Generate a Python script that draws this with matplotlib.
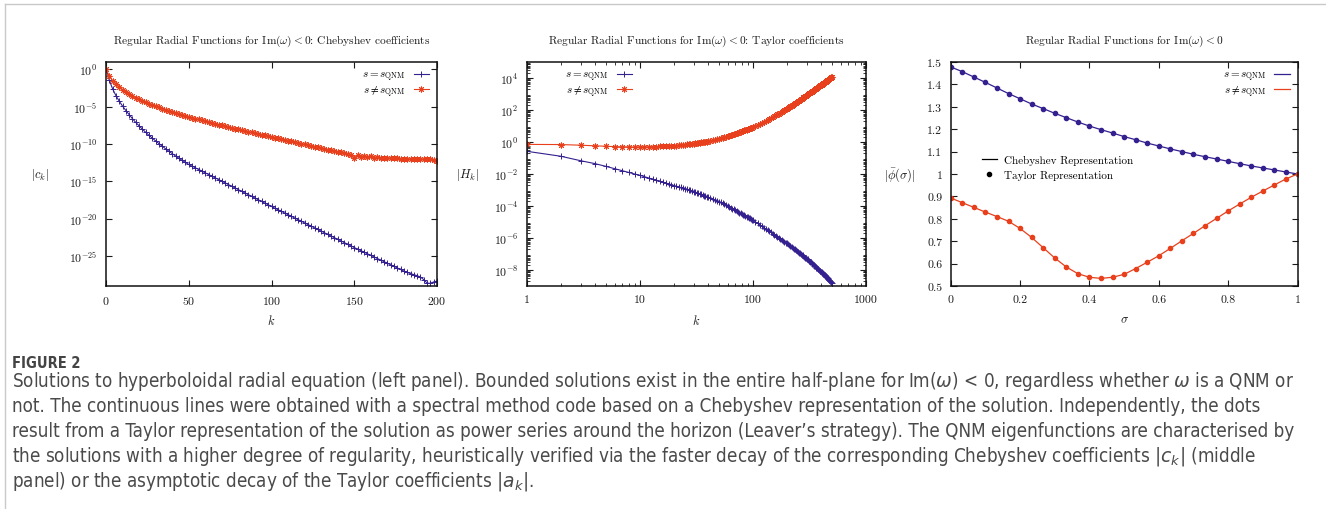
import matplotlib.pyplot as plt
import numpy as np
from matplotlib.lines import Line2D
from matplotlib.ticker import LogLocator, NullLocator, NullFormatter, FixedLocator, FixedFormatter

# ---------------- data (log10 values) ----------------
# left panel: Chebyshev coefficients |c_k|, k = 0, 2, ..., 200
k_cheb = np.arange(0, 201, 2)
log_ck_qnm = [
    0.1, -1.45, -2.6, -3.5, -4.25, -4.9, -5.5, -6.05, -6.6, -7.1,
    -7.55, -8.0, -8.42, -8.82, -9.2, -9.57, -9.93, -10.28, -10.62, -10.95,
    -11.27, -11.58, -11.88, -12.17, -12.45, -12.72,
    -12.95, -13.17, -13.40, -13.62, -13.85, -14.07, -14.30, -14.52, -14.75, -14.97,
    -15.20, -15.42, -15.65, -15.87, -16.10, -16.32, -16.55, -16.77, -17.00, -17.22,
    -17.45, -17.67, -17.90, -18.12, -18.35,
    -18.57, -18.79, -19.01, -19.23, -19.45, -19.67, -19.89, -20.11, -20.33, -20.55,
    -20.77, -20.99, -21.21, -21.43, -21.65, -21.87, -22.09, -22.31, -22.53, -22.75,
    -22.97, -23.19, -23.41, -23.63, -23.85, -24.06, -24.27, -24.48, -24.69, -24.9,
    -25.11, -25.32, -25.53, -25.74, -25.95, -26.16, -26.37, -26.58, -26.79, -27.0,
    -27.18, -27.34, -27.48, -27.62, -27.8, -28.15, -28.6, -28.65, -28.45, -28.35,
]
log_ck_other = [
    0.1, -0.9, -1.5, -1.95, -2.35, -2.75, -3.05, -3.3, -3.55, -3.78,
    -4.0, -4.2, -4.4, -4.58, -4.75, -4.92, -5.08, -5.23, -5.38, -5.52,
    -5.66, -5.8, -5.93, -6.06, -6.19, -6.32,
    -6.45, -6.57, -6.69, -6.81, -6.93, -7.05, -7.16, -7.27, -7.38, -7.49,
    -7.6, -7.71, -7.82, -7.92, -8.02, -8.12, -8.22, -8.32, -8.42, -8.52,
    -8.62, -8.72, -8.82, -8.92, -9.02,
    -9.12, -9.22, -9.32, -9.42, -9.52, -9.62, -9.72, -9.82, -9.92, -10.02,
    -10.12, -10.22, -10.32, -10.42, -10.52, -10.62, -10.72, -10.82, -10.92, -11.05,
    -11.1, -11.25, -11.3, -11.45, -11.85, -11.5, -11.7, -11.55, -11.75, -11.65,
    -11.8, -11.75, -11.8, -11.85, -11.85, -11.9, -11.9, -11.9, -11.95, -11.95,
    -11.95, -12.0, -12.0, -12.0, -12.0, -12.05, -12.05, -12.05, -12.1, -12.2,
]

# middle panel: Taylor coefficients |H_k|
k_taylor = np.concatenate([np.arange(1, 41), np.arange(42, 101, 2), np.arange(105, 501, 5)])
log_hk_qnm = [
    -0.58, -0.89, -1.17, -1.35, -1.52, -1.67, -1.79, -1.90, -2.00, -2.08,
    -2.17, -2.25, -2.32, -2.39, -2.45, -2.51, -2.57, -2.62, -2.67, -2.72,
    -2.76, -2.80, -2.84, -2.88, -2.92, -2.95, -2.99, -3.02, -3.06, -3.10,
    -3.13, -3.17, -3.21, -3.24, -3.28, -3.31, -3.35, -3.38, -3.41, -3.45,
    -3.51, -3.57, -3.63, -3.68, -3.73, -3.78, -3.83, -3.88, -3.94, -4.00,
    -4.05, -4.11, -4.16, -4.21, -4.26, -4.31, -4.36, -4.41, -4.45, -4.50,
    -4.54, -4.58, -4.62, -4.66, -4.70, -4.74, -4.78, -4.82, -4.85, -4.89,
    -4.99, -5.08, -5.18, -5.26, -5.35, -5.43, -5.50, -5.58, -5.65, -5.72,
    -5.79, -5.86, -5.92, -5.99, -6.05, -6.11, -6.17, -6.23, -6.29, -6.34,
    -6.40, -6.45, -6.50, -6.55, -6.61, -6.66, -6.71, -6.76, -6.81, -6.86,
    -6.91, -6.96, -7.00, -7.05, -7.09, -7.14, -7.18, -7.22, -7.26, -7.30,
    -7.34, -7.39, -7.43, -7.48, -7.52, -7.57, -7.61, -7.65, -7.69, -7.73,
    -7.77, -7.81, -7.85, -7.89, -7.93, -7.96, -8.00, -8.04, -8.07, -8.11,
    -8.14, -8.18, -8.21, -8.24, -8.28, -8.32, -8.35, -8.39, -8.43, -8.46,
    -8.50, -8.53, -8.57, -8.60, -8.64, -8.67, -8.70, -8.74, -8.77, -8.80,
]
log_hk_other = [
    -0.15, -0.16, -0.20, -0.24, -0.27, -0.29, -0.30, -0.31, -0.31, -0.31,
    -0.31, -0.30, -0.30, -0.29, -0.28, -0.27, -0.26, -0.25, -0.24, -0.23,
    -0.22, -0.21, -0.19, -0.18, -0.17, -0.15, -0.14, -0.13, -0.11, -0.10,
    -0.08, -0.07, -0.05, -0.04, -0.02, -0.01, 0.00, 0.02, 0.03, 0.04,
    0.08, 0.11, 0.15, 0.18, 0.21, 0.245, 0.275, 0.30, 0.33, 0.36,
    0.395, 0.43, 0.465, 0.50, 0.53, 0.56, 0.59, 0.62, 0.645, 0.675,
    0.70, 0.725, 0.75, 0.775, 0.80, 0.825, 0.85, 0.87, 0.895, 0.92,
    0.99, 1.06, 1.12, 1.18, 1.24, 1.30, 1.36, 1.42, 1.48, 1.54,
    1.60, 1.66, 1.72, 1.77, 1.83, 1.88, 1.94, 1.99, 2.04, 2.09,
    2.14, 2.18, 2.23, 2.28, 2.33, 2.37, 2.42, 2.46, 2.51, 2.55,
    2.59, 2.63, 2.67, 2.71, 2.75, 2.79, 2.83, 2.87, 2.90, 2.94,
    2.97, 3.01, 3.04, 3.08, 3.11, 3.15, 3.18, 3.21, 3.24, 3.27,
    3.30, 3.33, 3.36, 3.39, 3.42, 3.45, 3.48, 3.51, 3.54, 3.56,
    3.59, 3.62, 3.64, 3.67, 3.70, 3.72, 3.75, 3.77, 3.80, 3.82,
    3.85, 3.87, 3.90, 3.92, 3.94, 3.97, 3.99, 4.01, 4.04, 4.06,
]

# right panel: |phi(sigma)| on sigma = 0, 1/30, ..., 1
sigma = np.arange(31) / 30
phi_qnm = [
    1.478, 1.457, 1.433, 1.409, 1.384, 1.359, 1.336, 1.3125, 1.292, 1.271,
    1.2515, 1.232, 1.214, 1.198, 1.183, 1.167, 1.153, 1.138, 1.125, 1.112,
    1.100, 1.088, 1.077, 1.067, 1.0565, 1.046, 1.036, 1.027, 1.018, 1.009, 1.000,
]
phi_other = [
    0.893, 0.872, 0.851, 0.830, 0.810, 0.789, 0.757, 0.717, 0.671, 0.625,
    0.585, 0.555, 0.539, 0.534, 0.539, 0.552, 0.578, 0.606, 0.635, 0.668,
    0.702, 0.735, 0.769, 0.802, 0.835, 0.866, 0.896, 0.924, 0.951, 0.978, 1.000,
]

caption_lines = [
    r"Solutions to hyperboloidal radial equation (left panel). Bounded solutions exist in the entire half-plane for Im($\omega$) < 0, regardless whether $\omega$ is a QNM or",
    r"not. The continuous lines were obtained with a spectral method code based on a Chebyshev representation of the solution. Independently, the dots",
    r"result from a Taylor representation of the solution as power series around the horizon (Leaver’s strategy). The QNM eigenfunctions are characterised by",
    r"the solutions with a higher degree of regularity, heuristically verified via the faster decay of the corresponding Chebyshev coefficients $|c_k|$ (middle",
    r"panel) or the asymptotic decay of the Taylor coefficients $|a_k|$.",
]

# ---------------- style ----------------
plt.rcParams['font.family'] = 'cmr10'
plt.rcParams['mathtext.fontset'] = 'cm'
plt.rcParams['axes.formatter.use_mathtext'] = True
plt.rcParams['axes.unicode_minus'] = False

blue = '#35208f'
red = '#e8401c'
ink = '#1a1a1a'
W, H = 1326, 510
lab_qnm = r'$s = s_{\rm QNM}$'
lab_other = r'$s \neq s_{\rm QNM}$'
star = (8, 2, 0)


def style_axes(ax):
    for sp in ax.spines.values():
        sp.set_linewidth(1.1)
        sp.set_color('#111111')
    ax.tick_params(which='both', direction='in', top=True, right=True,
                   labelsize=8.5, colors=ink, pad=6)
    ax.tick_params(which='major', length=4, width=0.8)
    ax.tick_params(which='minor', length=2, width=0.6)


def key(ax, **kw):
    opts = dict(markerfirst=False, frameon=False, fontsize=8, handlelength=1.4,
                handletextpad=0.7, labelspacing=-0.1, borderaxespad=0.3, numpoints=1)
    opts.update(kw)
    return ax.legend(**opts)


fig = plt.figure(figsize=(W / 100, H / 100), dpi=100)

# ---------------- left panel ----------------
ax1 = fig.add_axes([106 / W, (H - 287) / H, 331 / W, 224 / H])
ax1.semilogy(k_cheb, 10 ** np.array(log_ck_qnm), '-', color=blue, lw=0.8,
             marker='+', ms=4, mew=0.7, label=lab_qnm)
ax1.semilogy(k_cheb, 10 ** np.array(log_ck_other), '-', color=red, lw=0.8,
             marker=star, ms=4.2, mew=0.7, label=lab_other)
ax1.set_xlim(0, 200)
ax1.set_ylim(1e-29, 1e1)
ax1.set_xticks([0, 50, 100, 150, 200])
ax1.yaxis.set_major_locator(FixedLocator([1e0, 1e-5, 1e-10, 1e-15, 1e-20, 1e-25]))
ax1.yaxis.set_minor_locator(NullLocator())
style_axes(ax1)
ax1.set_title(r'Regular Radial Functions for $\mathrm{Im}(\omega) < 0$: Chebyshev coefficients',
              fontsize=8.2, pad=14, color=ink)
ax1.set_xlabel(r'$k$', fontsize=9, color=ink)
ax1.xaxis.set_label_coords(0.5, -0.12)
ax1.set_ylabel(r'$|c_k|$', fontsize=9, rotation=0, color=ink, va='center')
ax1.yaxis.set_label_coords(-0.2, 0.5)
key(ax1, loc='upper right')

# ---------------- middle panel ----------------
ax2 = fig.add_axes([526.7 / W, (H - 287) / H, 339.3 / W, 224 / H])
ax2.loglog(k_taylor, 10 ** np.array(log_hk_qnm), '-', color=blue, lw=0.8,
           marker='+', ms=4, mew=0.7, label=lab_qnm)
ax2.loglog(k_taylor, 10 ** np.array(log_hk_other), '-', color=red, lw=0.8,
           marker=star, ms=4.2, mew=0.7, label=lab_other)
ax2.set_xlim(1, 1000)
ax2.set_ylim(1e-9, 1e5)
ax2.xaxis.set_major_locator(FixedLocator([1, 10, 100, 1000]))
ax2.xaxis.set_major_formatter(FixedFormatter(['1', '10', '100', '1000']))
ax2.xaxis.set_minor_locator(LogLocator(base=10, subs=np.arange(2, 10), numticks=20))
ax2.xaxis.set_minor_formatter(NullFormatter())
ax2.yaxis.set_major_locator(FixedLocator([1e4, 1e2, 1e0, 1e-2, 1e-4, 1e-6, 1e-8]))
ax2.yaxis.set_minor_locator(LogLocator(base=10, subs=np.arange(2, 10), numticks=40))
ax2.yaxis.set_minor_formatter(NullFormatter())
style_axes(ax2)
ax2.set_title(r'Regular Radial Functions for $\mathrm{Im}(\omega) < 0$: Taylor coefficients',
              fontsize=8.2, pad=14, color=ink)
ax2.set_xlabel(r'$k$', fontsize=9, color=ink)
ax2.xaxis.set_label_coords(0.5, -0.12)
ax2.set_ylabel(r'$|H_k|$', fontsize=9, rotation=0, color=ink, va='center')
ax2.yaxis.set_label_coords(-0.173, 0.5)
key(ax2, loc='upper left', bbox_to_anchor=(0.09, 1.0))

# ---------------- right panel ----------------
ax3 = fig.add_axes([950.7 / W, (H - 287) / H, 346.8 / W, 224 / H])
ax3.plot(sigma, phi_qnm, '-', color=blue, lw=0.9, label=lab_qnm)
ax3.plot(sigma, phi_other, '-', color=red, lw=0.9, label=lab_other)
ax3.plot(sigma, phi_qnm, 'o', color=blue, ms=3)
ax3.plot(sigma, phi_other, 'o', color=red, ms=3)
ax3.set_xlim(0, 1)
ax3.set_ylim(0.5, 1.5)
ax3.set_xticks([0, 0.2, 0.4, 0.6, 0.8, 1])
ax3.set_xticklabels(['0', '0.2', '0.4', '0.6', '0.8', '1'])
ax3.set_yticks([0.5, 0.6, 0.7, 0.8, 0.9, 1.0, 1.1, 1.2, 1.3, 1.4, 1.5])
ax3.set_yticklabels(['0.5', '0.6', '0.7', '0.8', '0.9', '1', '1.1', '1.2', '1.3', '1.4', '1.5'])
style_axes(ax3)
ax3.set_title(r'Regular Radial Functions for $\mathrm{Im}(\omega) < 0$',
              fontsize=8.2, pad=14, color=ink)
ax3.set_xlabel(r'$\sigma$', fontsize=9, color=ink)
ax3.xaxis.set_label_coords(0.5, -0.12)
ax3.set_ylabel(r'$|\bar{\phi}(\sigma)|$', fontsize=9, rotation=0, color=ink, va='center')
ax3.yaxis.set_label_coords(-0.146, 0.5)
leg_a = key(ax3, loc='upper right')
ax3.add_artist(leg_a)
proxies = [Line2D([], [], color='black', lw=0.9),
           Line2D([], [], color='black', ls='none', marker='o', ms=3)]
ax3.legend(proxies, ['Chebyshev Representation', 'Taylor Representation'],
           loc='upper left', bbox_to_anchor=(0.06, 0.63), frameon=False, fontsize=8,
           handlelength=1.4, handletextpad=0.6, labelspacing=0.45)

# ---------------- frame and caption ----------------
border = '#c9c9c9'
fig.add_artist(Line2D([4.5 / W, 4.5 / W], [0, 1 - 4.5 / H], color=border, lw=1))
fig.add_artist(Line2D([4.5 / W, 1], [1 - 4.5 / H, 1 - 4.5 / H], color=border, lw=1))

cap_font = ['DejaVu Sans']
fig.text(12 / W, 1 - 363 / H, 'FIGURE 2', fontsize=10.5, fontweight='bold',
         family=cap_font, fontstretch='condensed', color='#444444', va='center')
for i, line in enumerate(caption_lines):
    fig.text(12 / W, 1 - (382 + 25 * i) / H, line, fontsize=13.5, family=cap_font,
             fontstretch='condensed', color='#4a4a4a', va='center',
             math_fontfamily='dejavusans')

fig.savefig('out.png', dpi=100)
